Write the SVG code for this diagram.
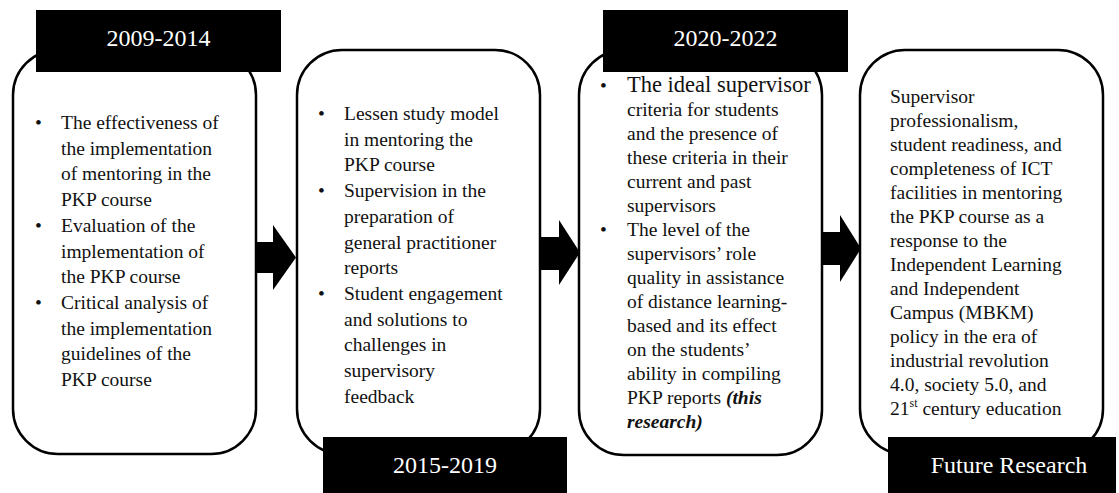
<svg xmlns="http://www.w3.org/2000/svg" width="1119" height="493" viewBox="0 0 1119 493">
<defs>
<style>
.box{fill:#fff;stroke:#000;stroke-width:2.5}
.lab{fill:#000}
.lt{font-family:"Liberation Serif","Times New Roman",serif;font-size:24px;fill:#fff;text-anchor:middle}
.t{font-family:"Liberation Serif","Times New Roman",serif;font-size:19.5px;fill:#111}
.arr{fill:#000}
.bi{font-weight:bold;font-style:italic}
</style>
</defs>
<rect width="1119" height="493" fill="#fff"/>
<g id="node1">
<rect class="box" x="13" y="50" width="243" height="404" rx="45"/>
<rect class="lab" x="36" y="10" width="245" height="62"/>
<text class="lt" x="158.5" y="46">2009-2014</text>
<text class="t">
<tspan x="35" y="129">•</tspan><tspan x="61" y="129">The effectiveness of</tspan>
<tspan x="61" y="154.7">the implementation</tspan>
<tspan x="61" y="180.4">of mentoring in the</tspan>
<tspan x="61" y="206.1">PKP course</tspan>
<tspan x="35" y="231.8">•</tspan><tspan x="61" y="231.8">Evaluation of the</tspan>
<tspan x="61" y="257.5">implementation of</tspan>
<tspan x="61" y="283.2">the PKP course</tspan>
<tspan x="35" y="308.9">•</tspan><tspan x="61" y="308.9">Critical analysis of</tspan>
<tspan x="61" y="334.6">the implementation</tspan>
<tspan x="61" y="360.3">guidelines of the</tspan>
<tspan x="61" y="386">PKP course</tspan>
</text>
</g>
<g id="node2">
<rect class="box" x="297" y="50" width="243" height="404" rx="45"/>
<rect class="lab" x="323" y="437" width="244" height="56"/>
<text class="lt" x="445" y="473">2015-2019</text>
<text class="t">
<tspan x="318" y="120">•</tspan><tspan x="344" y="120">Lessen study model</tspan>
<tspan x="344" y="145.7">in mentoring the</tspan>
<tspan x="344" y="171.4">PKP course</tspan>
<tspan x="318" y="197.1">•</tspan><tspan x="344" y="197.1">Supervision in the</tspan>
<tspan x="344" y="222.8">preparation of</tspan>
<tspan x="344" y="248.5">general practitioner</tspan>
<tspan x="344" y="274.2">reports</tspan>
<tspan x="318" y="299.9">•</tspan><tspan x="344" y="299.9">Student engagement</tspan>
<tspan x="344" y="325.6">and solutions to</tspan>
<tspan x="344" y="351.3">challenges in</tspan>
<tspan x="344" y="377">supervisory</tspan>
<tspan x="344" y="402.7">feedback</tspan>
</text>
</g>
<g id="node3">
<rect class="box" x="579" y="50" width="243" height="405" rx="45"/>
<rect class="lab" x="603" y="10" width="245" height="62"/>
<text class="lt" x="725.5" y="46">2020-2022</text>
<text class="t">
<tspan x="600" y="92">•</tspan><tspan x="627" y="92" font-size="22.5">The ideal supervisor</tspan>
<tspan x="627" y="116">criteria for students</tspan>
<tspan x="627" y="140">and the presence of</tspan>
<tspan x="627" y="164">these criteria in their</tspan>
<tspan x="627" y="188">current and past</tspan>
<tspan x="627" y="212">supervisors</tspan>
<tspan x="600" y="236">•</tspan><tspan x="627" y="236">The level of the</tspan>
<tspan x="627" y="260">supervisors’ role</tspan>
<tspan x="627" y="284">quality in assistance</tspan>
<tspan x="627" y="308">of distance learning-</tspan>
<tspan x="627" y="332">based and its effect</tspan>
<tspan x="627" y="356">on the students’</tspan>
<tspan x="627" y="380">ability in compiling</tspan>
<tspan x="627" y="404">PKP reports <tspan class="bi">(this</tspan></tspan>
<tspan x="627" y="428" class="bi">research)</tspan>
</text>
</g>
<g id="node4">
<rect class="box" x="860" y="50" width="243" height="404" rx="45"/>
<rect class="lab" x="888" y="437" width="228" height="56"/>
<text class="lt" x="1009" y="473">Future Research</text>
<text class="t">
<tspan x="890" y="103">Supervisor</tspan>
<tspan x="890" y="127">professionalism,</tspan>
<tspan x="890" y="151">student readiness, and</tspan>
<tspan x="890" y="175">completeness of ICT</tspan>
<tspan x="890" y="199">facilities in mentoring</tspan>
<tspan x="890" y="223">the PKP course as a</tspan>
<tspan x="890" y="247">response to the</tspan>
<tspan x="890" y="271">Independent Learning</tspan>
<tspan x="890" y="295">and Independent</tspan>
<tspan x="890" y="319">Campus (MBKM)</tspan>
<tspan x="890" y="343">policy in the era of</tspan>
<tspan x="890" y="367">industrial revolution</tspan>
<tspan x="890" y="391">4.0, society 5.0, and</tspan>
<tspan x="890" y="415">21<tspan font-size="12" dy="-8">st</tspan><tspan dy="8"> century education</tspan></tspan>
</text>
</g>
<g id="connectors">
<polygon class="arr" points="255,242 273,242 273,225 296,257.5 273,290 273,273 255,273"/>
<polygon class="arr" points="539,237 559,237 559,220 580,252.5 559,285 559,270 539,270"/>
<polygon class="arr" points="821,232 840,232 840,215 861,248.5 840,282 840,265 821,265"/>
</g>
</svg>
